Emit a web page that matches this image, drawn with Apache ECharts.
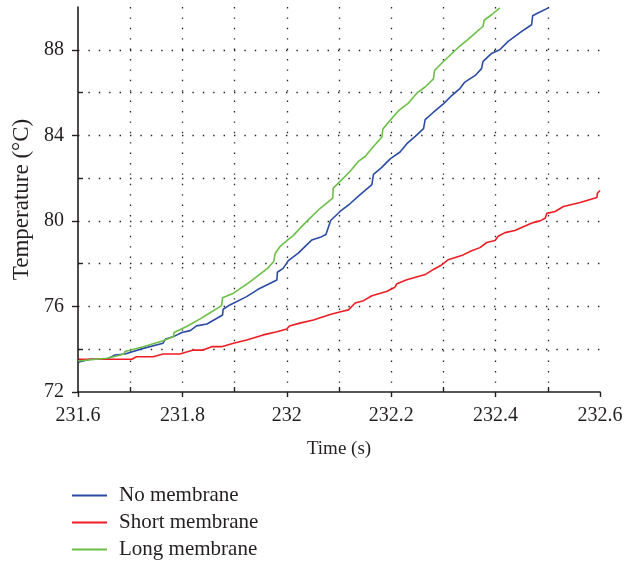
<!DOCTYPE html>
<html>
<head>
<meta charset="utf-8">
<script src="https://cdn.jsdelivr.net/npm/echarts@6/dist/echarts.min.js"></script>
<style>
  html, body { margin: 0; padding: 0; background: #fff; }
  #chart { width: 626px; height: 562px; }
</style>
</head>
<body>
<div id="chart"></div>
<script>
// Temperature traces (time in s, temperature in °C)
const noMembraneTime = [231.600, 231.623, 231.655, 231.671, 231.690, 231.725, 231.763, 231.767, 231.783, 231.799,
  231.815, 231.827, 231.847, 231.877, 231.878, 231.891, 231.923, 231.945, 231.981, 231.982,
  231.993, 232.003, 232.022, 232.048, 232.064, 232.075, 232.084, 232.102, 232.121, 232.140,
  232.163, 232.166, 232.182, 232.198, 232.217, 232.230, 232.246, 232.262, 232.265, 232.281,
  232.300, 232.316, 232.332, 232.341, 232.361, 232.373, 232.376, 232.393, 232.408, 232.424,
  232.450, 232.469, 232.471, 232.482, 232.501];
const noMembraneTemp = [73.39, 73.53, 73.53, 73.73, 73.78, 74.04, 74.28, 74.46, 74.59, 74.78,
  74.87, 75.09, 75.18, 75.60, 75.87, 76.07, 76.46, 76.80, 77.24, 77.60,
  77.78, 78.14, 78.49, 79.11, 79.23, 79.36, 80.02, 80.44, 80.80, 81.22,
  81.70, 82.18, 82.50, 82.90, 83.22, 83.61, 83.95, 84.31, 84.73, 85.08,
  85.47, 85.86, 86.20, 86.49, 86.80, 87.12, 87.46, 87.84, 88.00, 88.39,
  88.86, 89.17, 89.59, 89.73, 89.96];

const shortMembraneTime = [231.600, 231.703, 231.712, 231.744, 231.763, 231.795, 231.821, 231.840, 231.856, 231.875,
  231.898, 231.923, 231.955, 231.981, 232.000, 232.005, 232.025, 232.051, 232.083, 232.105,
  232.118, 232.131, 232.147, 232.163, 232.191, 232.207, 232.211, 232.230, 232.265, 232.281,
  232.294, 232.309, 232.338, 232.354, 232.370, 232.383, 232.399, 232.405, 232.418, 232.437,
  232.453, 232.472, 232.485, 232.495, 232.498, 232.514, 232.530, 232.562, 232.594, 232.595,
  232.600];
const shortMembraneTemp = [73.53, 73.53, 73.65, 73.65, 73.78, 73.78, 73.96, 73.96, 74.12, 74.12,
  74.28, 74.43, 74.67, 74.82, 74.95, 75.09, 75.22, 75.37, 75.62, 75.76,
  75.84, 76.16, 76.27, 76.50, 76.70, 76.90, 77.06, 77.25, 77.49, 77.73,
  77.90, 78.18, 78.41, 78.60, 78.75, 78.99, 79.08, 79.28, 79.45, 79.55,
  79.73, 79.92, 80.00, 80.12, 80.35, 80.44, 80.67, 80.86, 81.09, 81.29,
  81.42];

const longMembraneTime = [231.600, 231.655, 231.674, 231.688, 231.690, 231.725, 231.763, 231.783, 231.784, 231.808,
  231.834, 231.850, 231.875, 231.877, 231.898, 231.930, 231.963, 231.975, 231.978, 231.987,
  232.003, 232.012, 232.025, 232.044, 232.064, 232.088, 232.089, 232.105, 232.121, 232.137,
  232.150, 232.166, 232.182, 232.184, 232.198, 232.214, 232.233, 232.249, 232.265, 232.281,
  232.283, 232.300, 232.329, 232.345, 232.361, 232.376, 232.378, 232.393, 232.408];
const longMembraneTemp = [73.45, 73.58, 73.68, 73.78, 73.89, 74.12, 74.40, 74.59, 74.78, 75.06,
  75.42, 75.66, 76.04, 76.41, 76.62, 77.16, 77.78, 78.10, 78.49, 78.80,
  79.14, 79.30, 79.65, 80.12, 80.59, 81.06, 81.53, 81.92, 82.31, 82.78,
  83.01, 83.48, 83.91, 84.29, 84.70, 85.15, 85.51, 85.97, 86.26, 86.64,
  87.03, 87.45, 88.12, 88.44, 88.78, 89.10, 89.38, 89.65, 89.96];

const seriesNames = ['No membrane', 'Short membrane', 'Long membrane'];
const seriesColors = ['#2c4ca3', '#ee1d23', '#6cbf47'];

// Axis ranges and ticks
const xMin = 231.6, xMax = 232.6, xLabelStep = 0.2;
const yMin = 72, yMax = 90, yLabelStep = 4;
const xGridValues = [231.7, 231.8, 231.9, 232.0, 232.1, 232.2, 232.3, 232.4, 232.5];
const yGridValues = [74, 76, 78, 80, 82, 84, 86, 88];
const xMinorTicks = [231.7, 231.9, 232.1, 232.3, 232.5];
const yMinorTicks = [74, 78, 82, 86];

const zip = (xs, ys) => xs.map((x, i) => [x, ys[i]]);
const seriesData = [
  zip(noMembraneTime, noMembraneTemp),
  zip(shortMembraneTime, shortMembraneTemp),
  zip(longMembraneTime, longMembraneTemp)
];

const FONT = '"Liberation Serif", "DejaVu Serif", serif';
const INK = '#231f20';
const dotted = { type: [1.4, 9], color: '#222', width: 1.3 };
const tickLine = { color: INK, width: 1.4 };

// Helper axes: one carries the dotted grid, one the short inward ticks
function gridAxis(min, max, values, position) {
  return {
    type: 'value', min, max, position, offset: 0,
    axisLine: { show: false }, axisLabel: { show: false },
    axisTick: { show: false, customValues: values },
    splitLine: { show: true, lineStyle: dotted }
  };
}
function innerTickAxis(min, max, values, position) {
  return {
    type: 'value', min, max, position, offset: 0,
    axisLine: { show: false }, axisLabel: { show: false }, splitLine: { show: false },
    axisTick: { show: true, inside: true, length: 5, customValues: values, lineStyle: tickLine }
  };
}

const chart = echarts.init(document.getElementById('chart'), null, { renderer: 'canvas' });
chart.setOption({
  animation: false,
  backgroundColor: '#fff',
  textStyle: { fontFamily: FONT },
  grid: { left: 78, right: 26, top: 7, bottom: 170, containLabel: false, outerBoundsMode: 'none' },
  legend: {
    orient: 'vertical',
    left: 72,
    top: 485,
    padding: 0,
    itemGap: 6,
    itemWidth: 35,
    itemHeight: 2,
    icon: 'rect',
    textStyle: { fontFamily: FONT, fontSize: 21, lineHeight: 21, color: INK, padding: [0, 0, 0, 7] },
    data: seriesNames
  },
  xAxis: [
    {
      type: 'value', min: xMin, max: xMax, interval: xLabelStep,
      position: 'bottom',
      name: 'Time (s)', nameLocation: 'middle', nameGap: 48,
      nameTextStyle: { fontFamily: FONT, fontSize: 19, color: INK },
      axisLine: { show: true, lineStyle: { color: INK, width: 1.6 } },
      axisTick: { show: true, inside: false, length: 5, lineStyle: tickLine },
      axisLabel: { fontFamily: FONT, fontSize: 20, color: INK, margin: 14 },
      splitLine: { show: false },
      z: 5
    },
    gridAxis(xMin, xMax, xGridValues, 'bottom'),
    innerTickAxis(xMin, xMax, xMinorTicks, 'bottom')
  ],
  yAxis: [
    {
      type: 'value', min: yMin, max: yMax, interval: yLabelStep,
      position: 'left',
      name: 'Temperature (°C)', nameLocation: 'middle', nameGap: 44,
      nameTextStyle: { fontFamily: FONT, fontSize: 23, color: INK },
      axisLine: { show: true, lineStyle: { color: INK, width: 1.6 } },
      axisTick: { show: true, inside: false, length: 6, lineStyle: tickLine },
      axisLabel: { fontFamily: FONT, fontSize: 20, color: INK, margin: 14, showMaxLabel: false },
      splitLine: { show: false },
      z: 5
    },
    gridAxis(yMin, yMax, yGridValues, 'left'),
    innerTickAxis(yMin, yMax, yMinorTicks, 'left')
  ],
  series: seriesNames.map((name, i) => ({
    name,
    type: 'line',
    xAxisIndex: 0,
    yAxisIndex: 0,
    data: seriesData[i],
    showSymbol: false,
    symbol: 'none',
    color: seriesColors[i],
    lineStyle: { color: seriesColors[i], width: 1.6 },
    z: 3 + (i === 1 ? 0 : i)
  }))
});
</script>
</body>
</html>
